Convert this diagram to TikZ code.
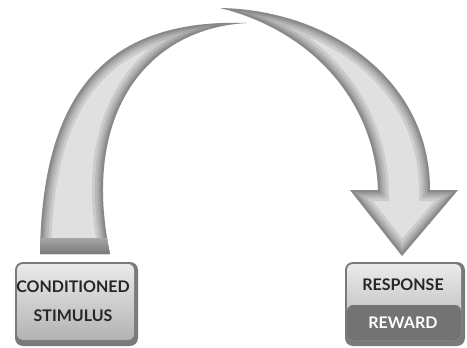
\documentclass[tikz,border=0pt]{standalone}
\usepackage{fontspec}
\setmainfont{Lato}
\begin{document}
\begin{tikzpicture}[x=1pt,y=-1pt,
  boxouter/.style={fill=black!52, rounded corners=8pt},
  boxface/.style={top color=black!8, bottom color=black!30, rounded corners=6pt},
  lbl/.style={font=\bfseries\fontsize{16}{18}\selectfont, text=black!85, inner sep=0pt},
  wlbl/.style={font=\bfseries\fontsize{16}{18}\selectfont, text=white, inner sep=0pt},
  rim/.style={draw=black, opacity=0.09}]
\useasboundingbox (0,0) rectangle (467,348);
% ---- left arc (tapering)
\def\leftarc{(40,254) .. controls (42,100) and (100,18) .. (247,23)
  .. controls (150,28) and (80,110) .. (110,254) -- cycle}
\begin{scope}
  \clip \leftarc;
  \fill[black!12] (0,0) rectangle (467,348);
  \foreach \w in {22,16,11,7,4} {\draw[rim, line width=\w pt] \leftarc;}
  \shade[top color=black!35, bottom color=black!55] (30,238) rectangle (120,256);
\end{scope}
% ---- right arc with arrowhead
\def\rightarc{(220,8) .. controls (330,10) and (430,80) .. (430,190)
  -- (458,190) -- (402,256) -- (350,190) -- (378,190)
  .. controls (375,100) and (310,30) .. (220,8) -- cycle}
\begin{scope}
  \clip \rightarc;
  \fill[black!12] (0,0) rectangle (467,348);
  \foreach \w in {22,16,11,7,4} {\draw[rim, line width=\w pt] \rightarc;}
\end{scope}
% ---- left box
\fill[boxouter] (15,262) rectangle (138,346);
\shade[boxface] (17,264) rectangle (134,340);
\node[lbl] (cs1) at (73,287) {CONDITIONED};
\node[lbl] (cs2) at (73,316) {STIMULUS};
% ---- right box
\fill[boxouter] (345,262) rectangle (465,346);
\shade[boxface] (347,264) rectangle (461,340);
\fill[black!55, rounded corners=6pt] (347,305) -- (461,305) -- (461,340) -- (347,340) -- cycle;
\node[lbl] (resp) at (403,285) {RESPONSE};
\node[wlbl] (rew) at (403,323) {REWARD};
\end{tikzpicture}
\end{document}
